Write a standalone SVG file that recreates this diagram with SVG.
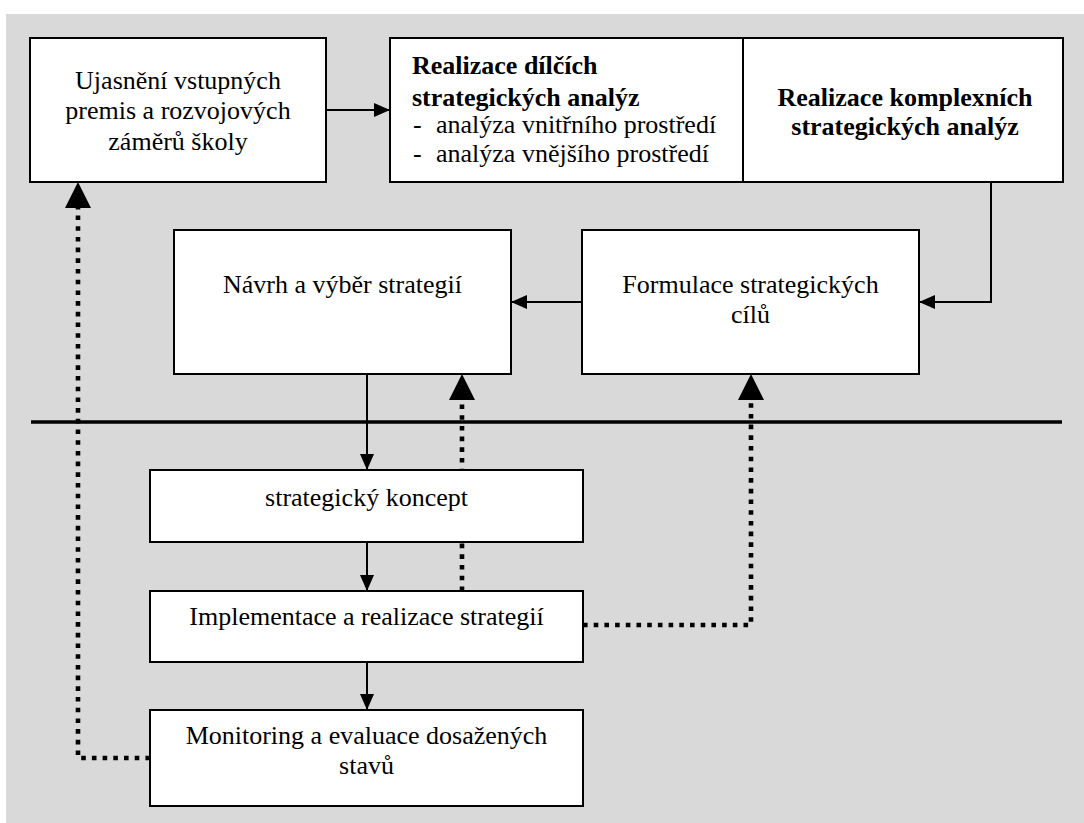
<svg xmlns="http://www.w3.org/2000/svg" width="1084" height="823" viewBox="0 0 1084 823">
  <style>
    .box { fill: #ffffff; stroke: #000000; stroke-width: 2; }
    .lbl { font-family: "Liberation Serif", "Times New Roman", serif; font-size: 26px; fill: #000000; }
    .c { text-anchor: middle; }
    .b { font-weight: bold; }
    .flow { fill: none; stroke: #000000; stroke-width: 2; }
    .back { fill: none; stroke: #000000; stroke-width: 4.6; stroke-dasharray: 4.6 6.1; }
  </style>
  <defs>
    <marker id="arrow" markerUnits="userSpaceOnUse" viewBox="0 0 16 14" markerWidth="16" markerHeight="14" refX="16" refY="7" orient="auto">
      <path d="M0,0 L16,7 L0,14 z" fill="#000000"/>
    </marker>
    <marker id="bigArrow" markerUnits="userSpaceOnUse" viewBox="0 0 26 26" markerWidth="26" markerHeight="26" refX="0" refY="13" orient="auto">
      <path d="M0,0 L26,13 L0,26 z" fill="#000000"/>
    </marker>
  </defs>

  <!-- background panel -->
  <rect x="6" y="14" width="1078" height="809" fill="#d9d9d9"/>

  <!-- separator between planning and execution -->
  <line x1="31" y1="422" x2="1062" y2="422" stroke="#000000" stroke-width="3.4"/>

  <g id="connectors">
    <path class="flow" d="M326,110 H390" marker-end="url(#arrow)"/>
    <path class="flow" d="M991,182 V302 H919" marker-end="url(#arrow)"/>
    <path class="flow" d="M582,302 H511" marker-end="url(#arrow)"/>
    <path class="flow" d="M367,374 V470" marker-end="url(#arrow)"/>
    <path class="flow" d="M367,542 V591" marker-end="url(#arrow)"/>
    <path class="flow" d="M367,662 V710" marker-end="url(#arrow)"/>
    <path class="back" d="M462,591 V400" marker-end="url(#bigArrow)"/>
    <path class="back" d="M583,625 H751 V400" marker-end="url(#bigArrow)"/>
    <path class="back" d="M150,758 H78 V208" marker-end="url(#bigArrow)"/>
  </g>

  <g id="premisy">
    <rect class="box" x="30" y="38" width="296" height="144"/>
    <text class="lbl c" x="178" y="89">Ujasnění vstupných</text>
    <text class="lbl c" x="178" y="119">premis a rozvojových</text>
    <text class="lbl c" x="178" y="150">záměrů školy</text>
  </g>

  <g id="dilci-analyzy">
    <rect class="box" x="390" y="38" width="353" height="144"/>
    <text class="lbl b" x="412" y="74">Realizace dílčích</text>
    <text class="lbl b" x="412" y="106">strategických analýz</text>
    <text class="lbl" y="133"><tspan x="413">-</tspan><tspan x="436">analýza vnitřního prostředí</tspan></text>
    <text class="lbl" y="162"><tspan x="413">-</tspan><tspan x="436">analýza vnějšího prostředí</tspan></text>
  </g>

  <g id="komplexni-analyzy">
    <rect class="box" x="743" y="38" width="320" height="144"/>
    <text class="lbl b c" x="905" y="106">Realizace komplexních</text>
    <text class="lbl b c" x="905" y="135">strategických analýz</text>
  </g>

  <g id="navrh">
    <rect class="box" x="174" y="230" width="337" height="144"/>
    <text class="lbl c" x="342.5" y="293">Návrh a výběr strategií</text>
  </g>

  <g id="formulace">
    <rect class="box" x="582" y="230" width="337" height="144"/>
    <text class="lbl c" x="750.5" y="293">Formulace strategických</text>
    <text class="lbl c" x="750.5" y="323">cílů</text>
  </g>

  <g id="koncept">
    <rect class="box" x="150" y="470" width="433" height="72"/>
    <text class="lbl c" x="366.5" y="506">strategický koncept</text>
  </g>

  <g id="implementace">
    <rect class="box" x="150" y="591" width="433" height="71"/>
    <text class="lbl c" x="366.5" y="625">Implementace a realizace strategií</text>
  </g>

  <g id="monitoring">
    <rect class="box" x="150" y="710" width="433" height="96"/>
    <text class="lbl c" x="366.5" y="744">Monitoring a evaluace dosažených</text>
    <text class="lbl c" x="366.5" y="774">stavů</text>
  </g>
</svg>
